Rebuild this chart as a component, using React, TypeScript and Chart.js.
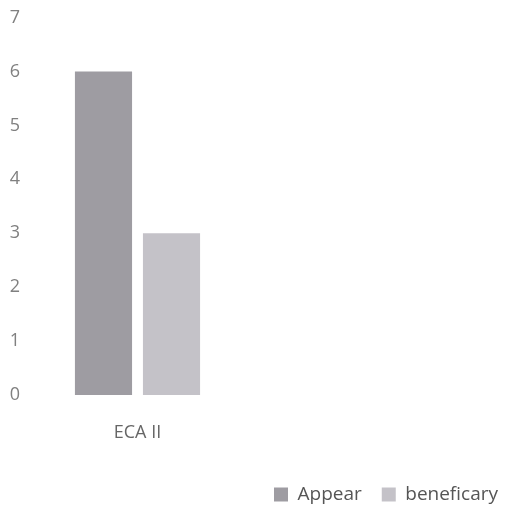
import React, { useEffect, useRef } from "react";
import { Chart, registerables } from "chart.js";

Chart.register(...registerables);

const categories = ["ECA II"];
const appearValues = [6];
const beneficaryValues = [3];
const yMin = 0;
const yMax = 7;
const yStep = 1;

export default function App() {
  const ref = useRef<HTMLCanvasElement | null>(null);

  useEffect(() => {
    if (!ref.current) return;
    const font = "'Open Sans', 'Noto Sans', sans-serif";
    const chart = new Chart(ref.current, {
      type: "bar",
      data: {
        labels: categories,
        datasets: [
          {
            label: "Appear",
            data: appearValues,
            backgroundColor: "#9e9ca2",
            borderWidth: 0,
            barPercentage: 0.84,
            categoryPercentage: 0.61,
          },
          {
            label: "beneficary",
            data: beneficaryValues,
            backgroundColor: "#c4c2c8",
            borderWidth: 0,
            barPercentage: 0.84,
            categoryPercentage: 0.61,
          },
        ],
      },
      options: {
        animation: false,
        responsive: true,
        maintainAspectRatio: false,
        layout: { padding: { top: 0, bottom: -6, left: 0, right: -20 } },
        plugins: {
          tooltip: { enabled: false },
          legend: {
            position: "bottom",
            align: "end",
            labels: {
              boxWidth: 14,
              boxHeight: 14,
              padding: 20,
              color: "#555555",
              font: { family: font, size: 19 },
            },
          },
        },
        scales: {
          x: {
            grid: { display: false, drawTicks: false },
            border: { display: false },
            ticks: {
              color: "#666666",
              padding: 27,
              font: { family: font, size: 18 },
            },
            afterFit: (s: any) => {
              s.height = 70;
            },
          },
          y: {
            min: yMin,
            max: yMax,
            grid: { display: false, drawTicks: false },
            border: { display: false },
            ticks: {
              stepSize: yStep,
              color: "#808080",
              padding: 6,
              font: { family: font, size: 18, lineHeight: 0.4 },
            },
            afterFit: (s: any) => {
              s.width = 18;
            },
          },
          yRight: {
            type: "linear",
            position: "right",
            display: true,
            grid: { display: false, drawTicks: false },
            border: { display: false },
            ticks: { display: false },
            afterFit: (s: any) => {
              s.width = 269;
            },
          },
        },
      },
    });
    return () => chart.destroy();
  }, []);

  return (
    <div style={{ width: 490, height: 500, position: "relative" }}>
      <canvas ref={ref} />
    </div>
  );
}
